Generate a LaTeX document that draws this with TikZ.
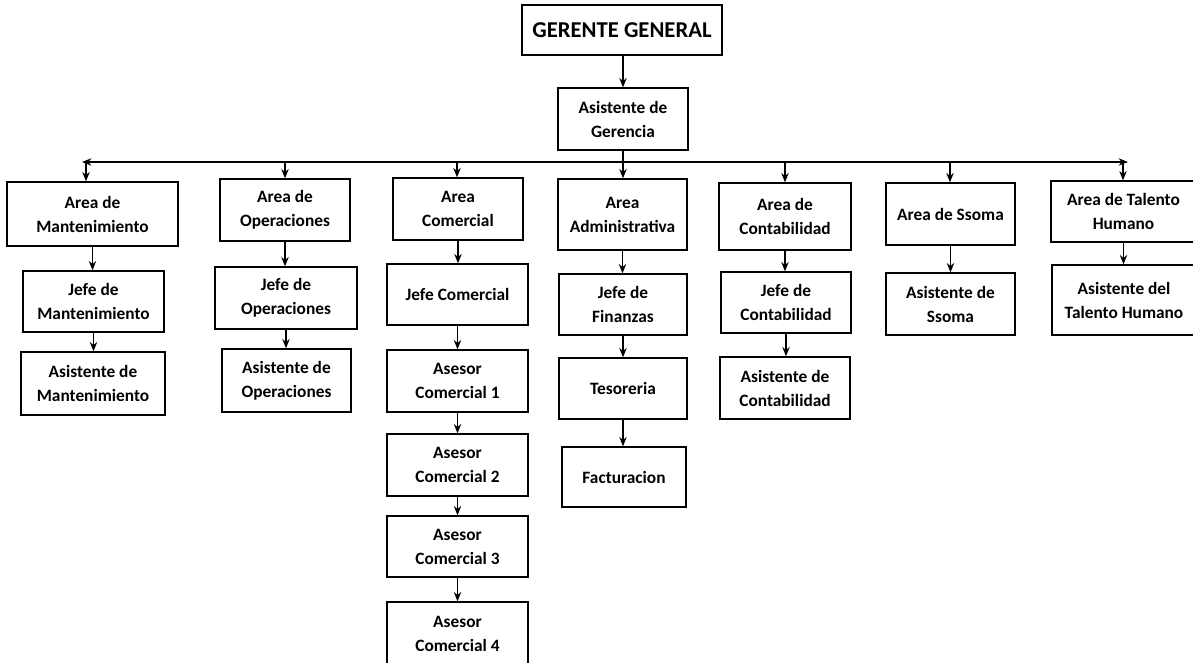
\documentclass[tikz,border=0pt]{standalone}
\usepackage{fontspec}
\setmainfont{Carlito}
\usetikzlibrary{arrows.meta}
\tikzset{
  box/.style={draw, line width=1pt, inner sep=0pt, align=center,
    font=\bfseries\fontsize{13}{18}\selectfont},
  topbox/.style={box, font=\bfseries\fontsize{17}{20}\selectfont},
  arr/.style={line width=1.1pt, -{Stealth[length=7pt,width=5.5pt]}},
  busline/.style={line width=1.1pt, {Stealth[length=7pt,width=5.5pt]}-{Stealth[length=7pt,width=5.5pt]}}
}
% \bx[style]{name}{x1}{y1}{x2}{y2}{text} : box between two pixel corners
\newcommand\bx[7][box]{%
  \node[#1, minimum width={(#5-#3)*0.75pt}, minimum height={(#6-#4)*0.75pt}]
    (#2) at ({(#3+#5)/2},{(#4+#6)/2}) {#7};}
\begin{document}
\begin{tikzpicture}[x=0.75pt, y=-0.75pt]
\clip (0,0) rectangle (1193,662);
\fill[white] (0,0) rectangle (1193,662);

\bx[topbox]{g}{522}{5}{722}{55}{GERENTE GENERAL}
\bx{ag}{558}{88}{688}{150}{Asistente de\\Gerencia}

% Mantenimiento
\bx{m1}{7}{182}{178}{246}{Area de\\Mantenimiento}
\bx{m2}{23}{271}{164}{332}{Jefe de\\Mantenimiento}
\bx{m3}{21}{352}{165}{415}{Asistente de\\Mantenimiento}
% Operaciones
\bx{o1}{220}{179}{350}{241}{Area de\\Operaciones}
\bx{o2}{215}{267}{357}{329}{Jefe de\\Operaciones}
\bx{o3}{222}{349}{351}{412}{Asistente de\\Operaciones}
% Comercial
\bx{c1}{393}{178}{523}{240}{Area\\Comercial}
\bx{c2}{387}{264}{528}{325}{Jefe Comercial}
\bx{c3}{387}{350}{528}{412}{Asesor\\Comercial 1}
\bx{c4}{387}{434}{528}{496}{Asesor\\Comercial 2}
\bx{c5}{387}{516}{528}{577}{Asesor\\Comercial 3}
\bx{c6}{387}{602}{528}{665}{Asesor\\Comercial 4}
% Administrativa
\bx{a1}{558}{179}{687}{250}{Area\\Administrativa}
\bx{a2}{559}{274}{687}{335}{Jefe de\\Finanzas}
\bx{a3}{559}{358}{687}{419}{Tesoreria}
\bx{a4}{562}{447}{686}{507}{Facturacion}
% Contabilidad
\bx{k1}{719}{183}{851}{250}{Area de\\Contabilidad}
\bx{k2}{721}{272}{851}{333}{Jefe de\\Contabilidad}
\bx{k3}{720}{357}{850}{419}{Asistente de\\Contabilidad}
% Ssoma
\bx{s1}{886}{183}{1015}{245}{Area de Ssoma}
\bx{s2}{886}{273}{1015}{335}{Asistente de\\Ssoma}
% Talento Humano
\bx{t1}{1051}{181}{1196}{242}{Area de Talento\\Humano}
\bx{t2}{1052}{265}{1196}{335}{Asistente del\\Talento Humano}

% distribution bus
\coordinate (busL) at (82,162);
\coordinate (busR) at (1128,162);
\draw[busline] (busL) -- (busR);

\draw[arr] (ag.north |- g.south) -- (ag.north);
\draw[arr] (ag.south) -- (ag.south |- a1.north);

\foreach \n/\x in {m1/86, o1/285, c1/457, k1/785, s1/950, t1/1123}
  \draw[arr] (\x,162) -- (\x,162 |- \n.north);

% column links
\foreach \u/\v in {m1/m2, m2/m3, o1/o2, o2/o3, c1/c2, c2/c3, c3/c4, c4/c5, c5/c6,
                   a1/a2, a2/a3, a3/a4, k1/k2, k2/k3, s1/s2, t1/t2}
  \draw[arr] (\u.south) -- (\u.south |- \v.north);
\end{tikzpicture}
\end{document}
